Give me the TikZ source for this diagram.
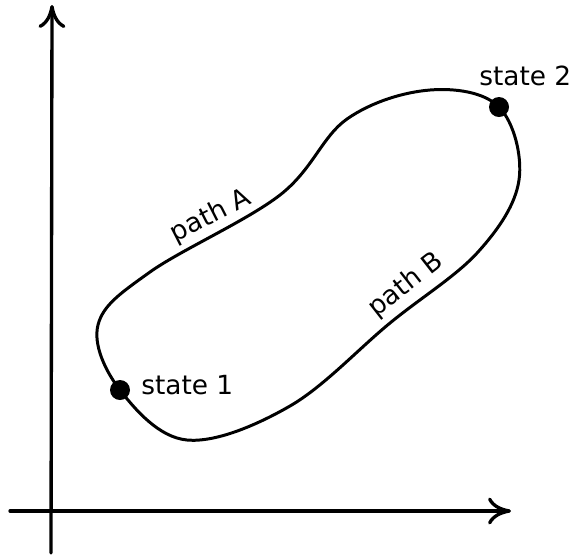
\documentclass[tikz,border=0pt]{standalone}
\usepackage{fontspec}
\setmainfont{DejaVu Sans}
\usetikzlibrary{arrows.meta}

\begin{document}
\begin{tikzpicture}[
    x=0.02cm, y=-0.02cm,
    >={Computer Modern Rightarrow[length=4.6mm,width=5.4mm]},
    axis/.style={->,line width=1.9pt,line cap=round},
    loop/.style={line width=1.7pt},
    lbl/.style={font=\fontsize{15}{18}\selectfont,inner sep=0pt},
]
\useasboundingbox (0,0) rectangle (574,556);

% Axes
\coordinate (ybot) at (51,553);
\coordinate (ytop) at (52,5);
\coordinate (xleft) at (10,511);
\coordinate (xright) at (511,511);
\draw[axis] (ybot) -- (ytop);
\draw[axis] (xleft) -- (xright);

% States
\coordinate (s1) at (120,390);
\coordinate (s2) at (499,107);

% Closed process loop
\draw[loop] plot[smooth cycle, tension=0.6] coordinates {
    (s1) (187,440) (290,406) (390,323) (478,252) (519,180)
    (s2) (430,90) (347,119) (280,195) (150,272) (98,325)};

% Dots and labels
\foreach \s in {s1,s2} {
    \fill (\s) circle (2mm);
}
\node[lbl,anchor=west] (t1) at (141,385) {state 1};
\node[lbl,anchor=west] (t2) at (479,76) {state 2};

% Path labels
\node[lbl,rotate=27] (pa) at (211,216) {path A};
\node[lbl,rotate=38] (pb) at (406,285) {path B};
\end{tikzpicture}
\end{document}
